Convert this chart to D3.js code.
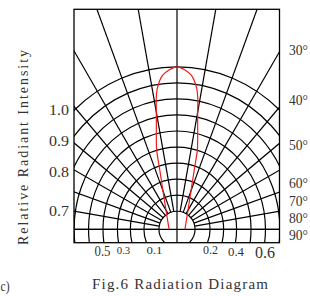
<!DOCTYPE html>
<html><head><meta charset="utf-8">
<script src="https://cdn.jsdelivr.net/npm/d3@7"></script>
<style>body{margin:0;background:#fff}svg{display:block}</style>
</head><body><svg id="c" width="310" height="296"></svg>
<script>
// ---------- data ----------
const ringLevels   = [0.1,0.2,0.3,0.4,0.5,0.6,0.7,0.8,0.9,1.0];
const spokeAngles  = [-90,-80,-70,-60,-50,-40,-30,-20,-10,0,10,20,30,40,50,60,70,80,90];
const leftLabels   = ["1.0","0.9","0.8","0.7"];
const bottomLabels = ["0.5","0.3","0.1","0.2","0.4","0.6"];
const angleLabels  = ["30°","40°","50°","60°","70°","80°","90°"];
// radiation pattern (one half, mirrored)
const patternAngles = [0,3,5.2,6.5,8,9,10,11,12,13,14.4,16.2,19.7,29.3,49.4,90];
const patternValues = [1.0,0.98,0.953,0.924,0.872,0.815,0.73,0.662,0.607,0.56,0.497,0.372,0.25,0.129,0.063,0.037];
const yTitle = "Relative Radiant Intensity";
const caption = "Fig.6 Radiation Diagram";

// ---------- layout ----------
const box = {x0:74, x1:279.5, y0:9.3, y1:242.7};
const origin = {x:177, y:229.3};
const r = d3.scaleLinear().domain([0,1]).range([2,162.5]);
// horizontal/vertical aspect of each ring as drawn in the original figure
const ringAspect = d3.scaleLinear().domain([0.1,0.2,0.3,0.4,0.8,0.9,1.0])
  .range([1.0,0.97,0.93,0.9,0.9,0.91,0.93]);
const innerR = r(0.1);
const font = "'Liberation Serif', serif";

const svg = d3.select("#c");
svg.append("defs").append("clipPath").attr("id","clip")
  .append("rect").attr("x",box.x0).attr("y",box.y0)
  .attr("width",box.x1-box.x0).attr("height",box.y1-box.y0);

const g = svg.append("g").attr("clip-path","url(#clip)");
const pg = g.append("g").attr("transform",`translate(${origin.x},${origin.y})`);

// rings
pg.selectAll("ellipse.ring").data(ringLevels).join("ellipse")
  .attr("class","ring").attr("rx",d=>r(d)*ringAspect(d)).attr("ry",d=>r(d))
  .attr("fill","none").attr("stroke","#000").attr("stroke-width",1.2);

// spokes
const far = 400;
pg.selectAll("line.spoke").data(spokeAngles).join("line")
  .attr("class","spoke")
  .attr("x1",d=> d===0 ? 0 : innerR*Math.sin(d*Math.PI/180))
  .attr("y1",d=> d===0 ? far : -innerR*Math.cos(d*Math.PI/180))
  .attr("x2",d=> far*Math.sin(d*Math.PI/180))
  .attr("y2",d=> -far*Math.cos(d*Math.PI/180))
  .attr("stroke","#000").attr("stroke-width",1.2);
// horizontal baseline across the whole box
pg.append("line").attr("x1",-far).attr("x2",far).attr("y1",0).attr("y2",0)
  .attr("stroke","#000").attr("stroke-width",1.2);

// pattern
const half = patternAngles.map((a,i)=>({a, v:patternValues[i]}));
const full = half.slice().reverse().map(d=>({a:-d.a, v:d.v})).concat(half.slice(1));
const radial = d3.lineRadial().angle(d=>d.a*Math.PI/180).radius(d=>r(d.v))
  .curve(d3.curveCatmullRom.alpha(0.5));
pg.append("path").attr("d",radial(full)).attr("fill","none")
  .attr("stroke","#f21a1a").attr("stroke-width",1.2);

// frame
svg.append("rect").attr("x",box.x0).attr("y",box.y0)
  .attr("width",box.x1-box.x0).attr("height",box.y1-box.y0)
  .attr("fill","none").attr("stroke","#000").attr("stroke-width",1.3);

// ---------- text ----------
const txtColor = "#333";
const leftY = d3.scaleOrdinal().domain(leftLabels).range([115,146,177,216]);
svg.selectAll("text.ll").data(leftLabels).join("text").attr("class","ll")
  .attr("x",69).attr("y",d=>leftY(d)).attr("text-anchor","end")
  .attr("font-family",font).attr("font-size",15).attr("fill",txtColor)
  .attr("textLength",20).attr("lengthAdjust","spacingAndGlyphs").text(d=>d);

const botX = d3.scaleOrdinal().domain(bottomLabels).range([102.5,123.5,154.5,210.5,236,265]);
const botSize = d3.scaleOrdinal().domain(bottomLabels).range([15,11,11,12,12,16]);
const botW = d3.scaleOrdinal().domain(bottomLabels).range([16,13.5,16,15,16,20]);
const botY = d3.scaleOrdinal().domain(bottomLabels).range([256,253.5,253.5,253.5,256,257.5]);
svg.selectAll("text.bl").data(bottomLabels).join("text").attr("class","bl")
  .attr("x",d=>botX(d)).attr("y",d=>botY(d)).attr("text-anchor","middle")
  .attr("font-family",font).attr("font-size",d=>botSize(d)).attr("fill",txtColor)
  .attr("textLength",d=>botW(d)).attr("lengthAdjust","spacingAndGlyphs").text(d=>d);

const angY = d3.scaleOrdinal().domain(angleLabels).range([55,105,150,188,206,223,240]);
svg.selectAll("text.al").data(angleLabels).join("text").attr("class","al")
  .attr("x",289).attr("y",d=>angY(d))
  .attr("font-family",font).attr("font-size",14).attr("fill",txtColor)
  .attr("textLength",19).attr("lengthAdjust","spacingAndGlyphs").text(d=>d);

svg.append("text").attr("transform","translate(28,147.5) rotate(-90)")
  .attr("text-anchor","middle").attr("font-family",font).attr("font-size",14)
  .attr("fill",txtColor).attr("textLength",195).attr("lengthAdjust","spacing")
  .text(yTitle);

svg.append("text").attr("x",180).attr("y",289).attr("text-anchor","middle")
  .attr("font-family",font).attr("font-size",15).attr("fill",txtColor)
  .attr("textLength",176).attr("lengthAdjust","spacing").text(caption);

svg.append("text").attr("x",0.5).attr("y",291)
  .attr("font-family",font).attr("font-size",14).attr("fill",txtColor)
  .attr("textLength",9).attr("lengthAdjust","spacingAndGlyphs").text("c)");
</script></body></html>
